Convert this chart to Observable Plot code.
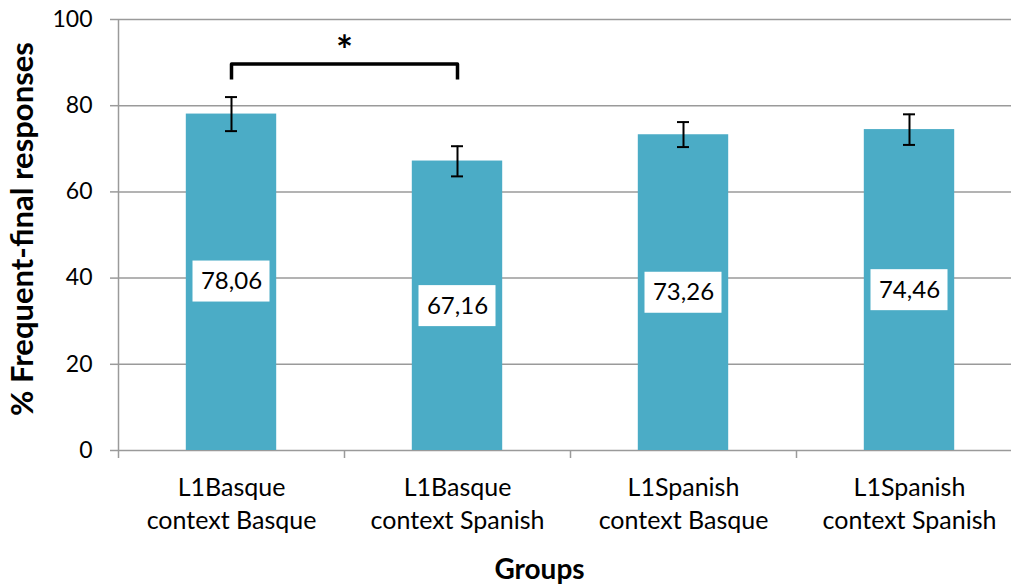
<!DOCTYPE html>
<html>
<head>
<meta charset="utf-8">
<script src="https://cdn.jsdelivr.net/npm/d3@7"></script>
<script src="https://cdn.jsdelivr.net/npm/@observablehq/plot@0.6"></script>
<style>
  html, body { margin: 0; padding: 0; background: #fff; }
  #chart svg { display: block; }
</style>
</head>
<body>
<div id="chart"></div>
<script>
// ---- data ----
const groups = [
  "L1Basque\ncontext Basque",
  "L1Basque\ncontext Spanish",
  "L1Spanish\ncontext Basque",
  "L1Spanish\ncontext Spanish"
];
const means = [78.06, 67.16, 73.26, 74.46];
const errLow = [74.1, 63.6, 70.4, 70.9];
const errHigh = [82.0, 70.6, 76.2, 78.0];
const valueLabels = ["78,06", "67,16", "73,26", "74,46"];
const valueLabelY = [39.2, 33.5, 36.6, 37.2];
const yTicks = [0, 20, 40, 60, 80, 100];
const groupBoundaries = [0, 1, 2, 3, 4];
// significance bracket between group 0 and group 1
const bracket = [
  {g: 0, y: 86.1}, {g: 0, y: 89.7}, {g: 1, y: 89.7}, {g: 1, y: 86.1}
];
const sigStar = [{g: 0.5, y: 92.3, text: "*"}];
const yTitle = "% Frequent-final responses";
const xTitle = "Groups";

// ---- table built from arrays ----
const rows = groups.map((g, i) => ({
  i, g, mean: means[i], lo: errLow[i], hi: errHigh[i],
  label: valueLabels[i], ly: valueLabelY[i]
}));

const barColor = "#4BACC6";
const gridColor = "#9a9a9a";
const font = "Lato, 'Open Sans', sans-serif";

const chart = Plot.plot({
  width: 1011,
  height: 585,
  marginLeft: 118,
  marginRight: 0,
  marginTop: 19,
  marginBottom: 135,
  style: {fontFamily: font, fontSize: "22px", color: "#000", background: "#fff"},
  x: {type: "linear", domain: [0, 4], range: [118, 1022], axis: null},
  y: {domain: [0, 100], axis: null},
  marks: [
    // gridlines
    Plot.ruleY(yTicks, {stroke: gridColor, strokeWidth: 1.5, x1: 0, x2: 4}),
    // y axis ticks & labels
    Plot.axisY({ticks: yTicks, tickSize: 8, tickPadding: 18, stroke: gridColor, strokeWidth: 1.5, fill: "#000", fontSize: 23, label: null}),
    // x axis group boundary ticks
    Plot.axisX({ticks: groupBoundaries, tickSize: 8, tickFormat: () => "", stroke: gridColor, strokeWidth: 1.5, label: null}),
    // y axis line
    Plot.ruleX([0], {y1: 0, y2: 100, stroke: gridColor, strokeWidth: 1.5}),
    // bars
    Plot.rectY(rows, {x1: d => d.i + 0.3, x2: d => d.i + 0.7, y1: 0, y2: "mean", fill: barColor}),
    // error bars
    Plot.ruleX(rows, {x: d => d.i + 0.5, y1: "lo", y2: "hi", stroke: "#000", strokeWidth: 2}),
    Plot.ruleY(rows, {y: "lo", x1: d => d.i + 0.5, x2: d => d.i + 0.5, insetLeft: -6, insetRight: -6, stroke: "#000", strokeWidth: 2}),
    Plot.ruleY(rows, {y: "hi", x1: d => d.i + 0.5, x2: d => d.i + 0.5, insetLeft: -6, insetRight: -6, stroke: "#000", strokeWidth: 2}),
    // value label boxes
    Plot.rect(rows, {x1: d => d.i + 0.5, x2: d => d.i + 0.5, y1: "ly", y2: "ly", insetLeft: -38.5, insetRight: -38.5, insetTop: -20.5, insetBottom: -20.5, fill: "#fff"}),
    Plot.text(rows, {x: d => d.i + 0.5, y: "ly", text: "label", fontSize: 24, fill: "#000"}),
    // significance bracket
    Plot.line(bracket, {x: d => d.g + 0.5, y: "y", stroke: "#000", strokeWidth: 3.5, strokeLinejoin: "round", strokeLinecap: "butt"}),
    Plot.text(sigStar, {x: d => d.g + 0.5, y: "y", text: "text", fontSize: 40, fontWeight: "bold", fill: "#000"}),
    // category labels
    Plot.text(rows, {x: d => d.i + 0.5, y: 0, text: "g", dy: 51, lineHeight: 1.33, fontSize: 25, fill: "#000", lineAnchor: "middle"}),
    // axis titles
    Plot.text([yTitle], {frameAnchor: "left", text: d => d, rotate: -90, dx: -95, dy: -6, textAnchor: "middle", lineAnchor: "middle", fontSize: 31, fontWeight: "bold", fill: "#000"}),
    Plot.text([xTitle], {frameAnchor: "bottom", text: d => d, dx: -25.5, dy: 120, textAnchor: "middle", lineAnchor: "middle", fontSize: 28, fontWeight: "bold", fill: "#000"})
  ]
});
document.getElementById("chart").appendChild(chart);
</script>
</body>
</html>
